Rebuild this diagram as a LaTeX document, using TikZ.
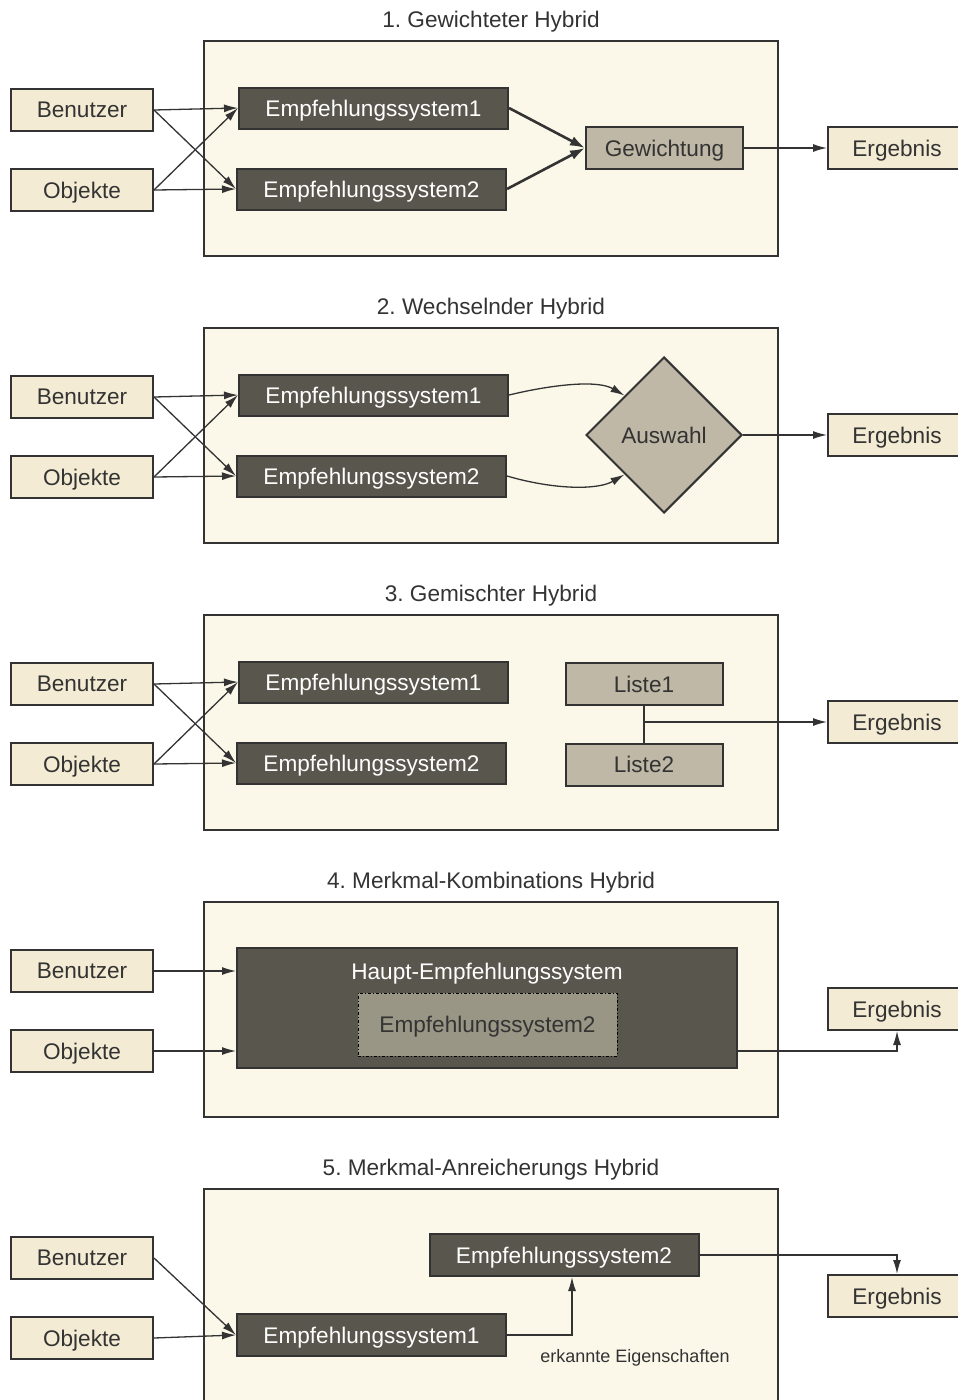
\documentclass[tikz,border=0pt]{standalone}
\usepackage{fontspec}
\setmainfont{Liberation Sans}
\usetikzlibrary{arrows.meta,shapes.geometric}
\definecolor{panelbg}{HTML}{FBF8E9}
\definecolor{inbg}{HTML}{F3EBD3}
\definecolor{darkbg}{HTML}{59564E}
\definecolor{midbg}{HTML}{BFB8A7}
\definecolor{innerbg}{HTML}{999685}
\definecolor{lineclr}{HTML}{333333}
\frenchspacing

\begin{document}
\begin{tikzpicture}[x=1pt,y=-1pt,
    font=\fontsize{22.6}{27}\selectfont,
    every node/.style={inner sep=0pt,text depth=0pt,text=lineclr},
    panel/.style={draw=lineclr,line width=1.5pt,fill=panelbg,minimum width=574pt,minimum height=215pt},
    inbox/.style={draw=lineclr,line width=2pt,fill=inbg,minimum width=142pt,minimum height=42pt},
    dark/.style={draw=lineclr,line width=2pt,fill=darkbg,text=white,minimum width=269pt,minimum height=41pt},
    mid/.style={draw=lineclr,line width=2pt,fill=midbg,minimum width=157pt,minimum height=42pt},
    arr/.style={draw=lineclr,line width=1.3pt,-{Latex[length=14pt,width=8pt]}},
    thickarr/.style={draw=lineclr,line width=2.6pt,-{Latex[length=15pt,width=10pt]}}]
  \useasboundingbox (0,0) rectangle (958,1400);
  \clip (0,0) rectangle (958,1400);
  \fill[white] (0,0) rectangle (958,1400);
  % common frame of every panel
  \foreach \i/\t in {0/1. Gewichteter Hybrid,1/2. Wechselnder Hybrid,2/3. Gemischter Hybrid,
                     3/4. Merkmal-Kombinations Hybrid,4/5. Merkmal-Anreicherungs Hybrid}{
    \node (tit\i) at (491,19+287*\i) {\t};
    \node[panel] (pan\i) at (491,148.5+287*\i) {};
    \node[inbox] (ben\i) at (82,110+287*\i) {Benutzer};
    \node[inbox] (obj\i) at (82,190+287*\i) {Objekte};
    \node[inbox,minimum width=138pt] (erg\i) at (897,148+287*\i) {Ergebnis};
  }
  % panels 1-3: two systems, crossed inputs
  \foreach \i in {0,1,2}{
    \node[dark] (esa\i) at (373.5,108+287*\i) {Empfehlungssystem1};
    \node[dark] (esb\i) at (371.5,189+287*\i) {Empfehlungssystem2};
    \foreach \s in {ben,obj}{
      \foreach \e in {esa,esb}{
        \draw[arr] (\s\i.east) -- (\e\i.west);
      }
    }
  }
  % 1
  \node[mid] (gew) at (664.5,148) {Gewichtung};
  \draw[thickarr] (esa0.east) -- (gew.west);
  \draw[thickarr] (esb0.east) -- (gew.west);
  \draw[arr] (gew.east) -- (erg0.west);
  % 2
  \node[diamond,draw=lineclr,line width=2pt,fill=midbg,minimum width=156pt,minimum height=156pt] (aus) at (664,435) {Auswahl};
  \draw[arr] (esa1.east) .. controls (555,384) and (598,380) .. (aus.north west);
  \draw[arr] (esb1.east) .. controls (555,490) and (598,490) .. (aus.south west);
  \draw[arr] (aus.east) -- (erg1.west);
  % 3
  \node[mid] (lia) at (644,684) {Liste1};
  \node[mid] (lib) at (644,764.5) {Liste2};
  \draw[draw=lineclr,line width=1.5pt] (lia.south) -- (lib.north);
  \draw[arr] (lia.south |- erg2.west) -- (erg2.west);
  % 4
  \node[dark,minimum width=500pt,minimum height=120pt] (hpt) at (487,1008) {};
  \node[text=white] (hptl) at (487,971) {Haupt-Empfehlungssystem};
  \node[draw=black,line width=1pt,dash dot,fill=innerbg,minimum width=259pt,minimum height=63pt] (esk) at (487.5,1024.5) {Empfehlungssystem2};
  \draw[arr] (ben3.east) -- (ben3.east -| hpt.west);
  \draw[arr] (obj3.east) -- (obj3.east -| hpt.west);
  \draw[arr] (hpt.east |- obj3.east) -| (erg3.south);
  % 5
  \node[dark,minimum height=42pt] (esb4) at (564,1255) {Empfehlungssystem2};
  \node[dark,minimum height=42pt] (esa4) at (371.5,1335) {Empfehlungssystem1};
  \node[font=\fontsize{18}{21}\selectfont] (eig) at (635,1356) {erkannte Eigenschaften};
  \draw[arr] (ben4.east) -- (esa4.west);
  \draw[arr] (obj4.east) -- (esa4.west);
  \draw[arr] (esa4.east) -| ([xshift=8pt]esb4.south);
  \draw[arr] (esb4.east) -| (erg4.north);
\end{tikzpicture}
\end{document}
